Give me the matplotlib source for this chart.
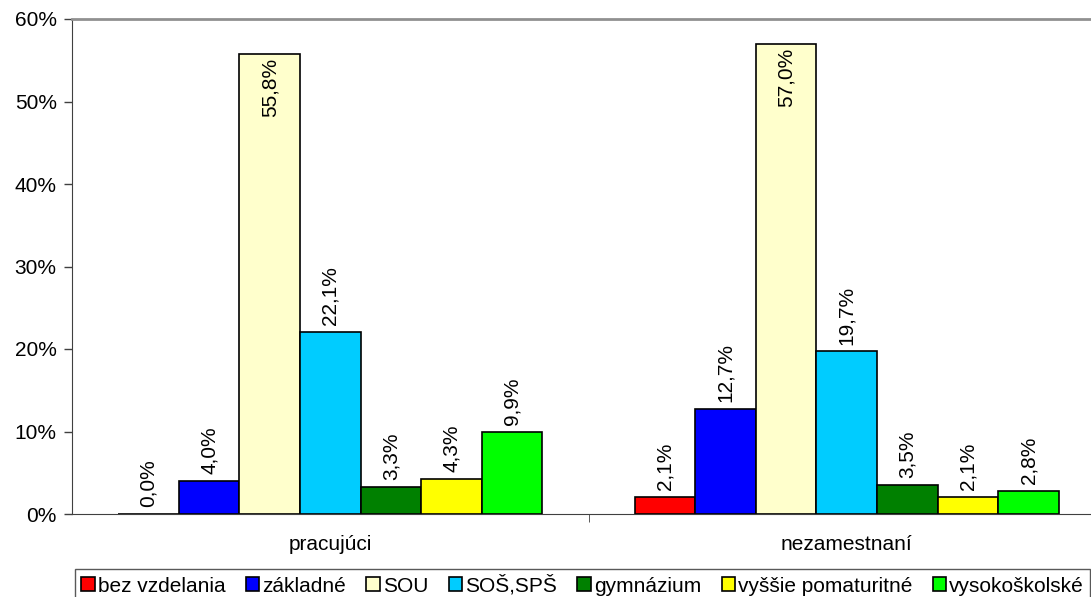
import matplotlib.pyplot as plt
import numpy as np

plt.rcParams["font.family"] = ["Liberation Sans", "DejaVu Sans"]

groups = ["pracujúci", "nezamestnaní"]
levels = ["bez vzdelania", "základné", "SOU", "SOŠ,SPŠ", "gymnázium",
          "vyššie pomaturitné", "vysokoškolské"]
pracujuci = [0.0, 4.0, 55.8, 22.1, 3.3, 4.3, 9.9]
nezamestnani = [2.1, 12.7, 57.0, 19.7, 3.5, 2.1, 2.8]
colors = ["#FF0000", "#0000FF", "#FFFFCC", "#00CCFF", "#008000",
          "#FFFF00", "#00FF00"]

W, H = 1091, 597
fs = 15
fig = plt.figure(figsize=(W / 100, H / 100), dpi=100)
# axes runs a bit past the right edge, like the cropped original
ax = fig.add_axes([72 / W, 1 - 514 / H, 1033 / W, 495 / H])

values = np.array([pracujuci, nezamestnani])
n = len(levels)
bw = 0.1173
x = np.arange(len(groups))
for i in range(n):
    pos = x + (i - (n - 1) / 2) * bw
    bars = ax.bar(pos, values[:, i], width=bw, color=colors[i],
                  edgecolor="black", linewidth=1.2, label=levels[i])
    for b, v in zip(bars, values[:, i]):
        lab = f"{v:.1f}%".replace(".", ",")
        cx = b.get_x() + b.get_width() / 2
        if v > 50:
            # no room above, Excel puts it inside the bar top
            ax.annotate(lab, (cx, v), xytext=(0, -3),
                        textcoords="offset points", rotation=90,
                        ha="center", va="top", fontsize=fs)
        else:
            ax.annotate(lab, (cx, v), xytext=(0, 5),
                        textcoords="offset points", rotation=90,
                        ha="center", va="bottom", fontsize=fs)

ax.set_xlim(-0.5, 1.5)
ax.set_ylim(0, 60)
ax.set_yticks(range(0, 61, 10))
ax.set_yticklabels([f"{t}%" for t in range(0, 61, 10)], fontsize=fs)
ax.set_xticks(x)
ax.set_xticklabels(groups, fontsize=fs)
ax.tick_params(axis="x", length=0, pad=15)
ax.tick_params(axis="y", length=6, width=1, color="#404040", pad=5)
ax.set_xticks([0.5], minor=True)
ax.tick_params(axis="x", which="minor", length=6, color="#404040")

ax.spines["right"].set_visible(False)
ax.spines["top"].set_color("#909090")
ax.spines["top"].set_linewidth(2)
ax.spines["left"].set_color("#404040")
ax.spines["bottom"].set_color("#404040")

leg = fig.legend(loc="upper left", bbox_to_anchor=(75 / W, 1 - 569 / H),
                 ncol=n, fontsize=fs, frameon=True, fancybox=False,
                 handlelength=0.65, handleheight=0.65, handletextpad=0.15,
                 columnspacing=0.97, borderpad=0.3, borderaxespad=0)
leg.get_frame().set_edgecolor("#303030")
leg.get_frame().set_linewidth(1)

fig.savefig("out.png", dpi=100)
